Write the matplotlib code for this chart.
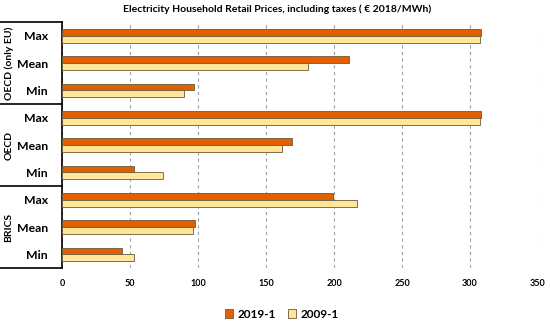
import numpy as np
import matplotlib
matplotlib.use("Agg")
import matplotlib.pyplot as plt

plt.rcParams["font.family"] = ["Lato", "DejaVu Sans"]

# ---- data ----
groups = ["OECD (only EU)", "OECD", "BRICS"]
stats = ["Max", "Mean", "Min"]
v2019 = [308, 211, 97, 308, 169, 53, 199, 98, 44]
v2009 = [307, 181, 90, 307, 162, 74, 217, 96, 53]
xticks = [0, 50, 100, 150, 200, 250, 300, 350]

ORANGE = "#E36000"; YELLOW = "#FFE699"; EDGE = "#6b5a3a"

fig = plt.figure(figsize=(5.5, 3.21), dpi=100)
ax = fig.add_axes([62/550, 1-268/321, 476/550, 246/321])

y = np.arange(len(v2019))
h = 0.25
ax.barh(y - h/2, v2019, height=h, color=ORANGE, edgecolor=EDGE, lw=0.6, label="2019-1", zorder=3)
ax.barh(y + h/2, v2009, height=h, color=YELLOW, edgecolor=EDGE, lw=0.6, label="2009-1", zorder=3)

ax.set_ylim(len(y)-0.5, -0.5)
ax.set_xlim(0, 350)
ax.set_xticks(xticks)
ax.set_xticklabels([str(t) for t in xticks], fontsize=6.5, fontweight="bold")
ax.set_yticks(y)
ax.set_yticklabels(stats*len(groups), fontsize=8.8, fontweight="bold")
ax.tick_params(axis="both", length=0)
ax.tick_params(axis="y", pad=10)
ax.tick_params(axis="x", pad=8)
ax.grid(axis="x", ls=(0, (3, 3)), color="#a0a0a0", lw=0.8, zorder=0)
for s in ["top", "right", "bottom"]:
    ax.spines[s].set_visible(False)
ax.spines["left"].set_linewidth(1.2)

# group separators and labels
tr = matplotlib.transforms.blended_transform_factory(ax.transAxes, ax.transData)
x0 = -62/476
for b in [-0.5, 2.5, 5.5, 8.5]:
    ax.plot([x0, 0], [b, b], color="black", lw=1.2, transform=tr, clip_on=False)
for i, g in enumerate(groups):
    ax.text(-53/476, 3*i+1, g, transform=tr, rotation=90, ha="center", va="center",
            fontsize=7.5, fontweight="bold")

fig.text(277/550, 1-9/321, "Electricity Household Retail Prices, including taxes ( € 2018/MWh)",
         ha="center", va="center", fontsize=7.5, fontweight="bold")
fig.legend(loc="center", bbox_to_anchor=(282/550, 1-314/321), ncol=2, frameon=False,
           handlelength=0.7, handleheight=0.7, columnspacing=1.0, handletextpad=0.4,
           prop={"weight": "bold", "size": 8.5})

fig.savefig("out.png", dpi=100)
